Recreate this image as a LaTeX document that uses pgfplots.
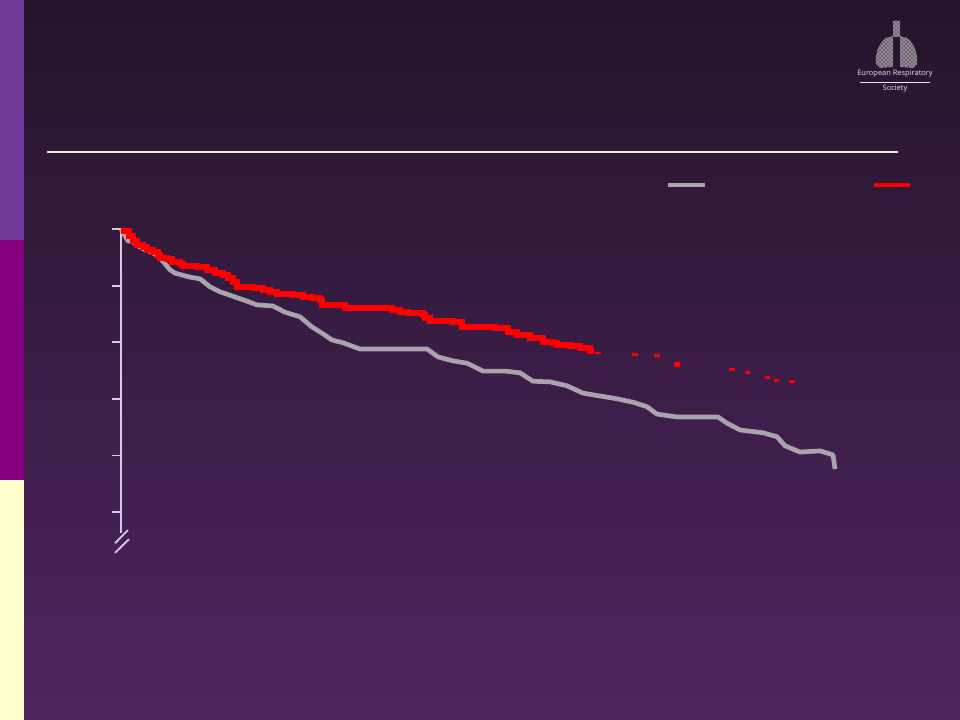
\documentclass[border=0pt]{standalone}
\usepackage{pgfplots}
\pgfplotsset{compat=1.18}
\usepackage{pgfplotstable}
\usepackage{fontspec}
\setsansfont{Open Sans}
\usetikzlibrary{patterns}
\definecolor{bgtop}{RGB}{36,20,42}
\definecolor{bgbot}{RGB}{80,37,97}
\definecolor{barA}{RGB}{112,58,154}
\definecolor{barB}{RGB}{134,0,128}
\definecolor{barC}{RGB}{255,255,204}
\definecolor{kmgray}{RGB}{168,163,172}
\definecolor{kmred}{RGB}{255,0,0}
\definecolor{axlav}{RGB}{215,200,230}
\definecolor{rulec}{RGB}{240,236,206}

\pgfplotstableread{
x y
0 1.000
0.98 0.979
1.68 0.977
2.94 0.966
4.48 0.958
5.46 0.949
6.86 0.928
7.56 0.922
9.66 0.915
11.06 0.912
12.46 0.898
13.87 0.889
15.27 0.883
17.09 0.875
19.05 0.866
21.29 0.864
22.97 0.853
25.07 0.845
26.75 0.827
28.15 0.816
29.55 0.804
31.09 0.799
33.47 0.788
42.86 0.788
44.40 0.774
46.50 0.767
48.46 0.763
50.70 0.749
53.78 0.749
55.88 0.746
57.70 0.731
60.08 0.730
62.46 0.723
64.71 0.710
67.09 0.705
69.47 0.700
71.71 0.694
73.67 0.686
75.07 0.673
77.87 0.668
83.61 0.668
84.87 0.657
86.69 0.645
89.92 0.640
91.88 0.633
93.00 0.617
95.10 0.606
97.90 0.608
99.72 0.601
100.00 0.576
}\graytab

\pgfplotstableread{
x y
0 0.996
1.12 0.988
1.68 0.979
2.24 0.972
3.08 0.968
3.64 0.963
4.48 0.959
5.18 0.954
5.46 0.949
6.44 0.947
7.14 0.942
8.26 0.938
8.68 0.935
10.64 0.933
12.04 0.928
13.17 0.922
14.29 0.919
14.99 0.913
15.69 0.906
16.25 0.898
18.49 0.896
19.89 0.892
20.87 0.889
21.85 0.885
24.09 0.883
25.49 0.880
26.75 0.878
27.87 0.875
28.15 0.866
31.37 0.860
37.96 0.857
39.08 0.853
40.20 0.852
42.30 0.848
42.58 0.843
43.28 0.837
46.50 0.836
47.76 0.827
52.38 0.825
54.20 0.818
55.46 0.813
57.28 0.807
59.10 0.800
60.50 0.799
61.06 0.795
62.89 0.793
64.29 0.790
65.69 0.784
66.25 0.784
}\redtab

\pgfplotstableread{
x y
66.81 0.781
71.99 0.779
75.07 0.777
85.57 0.751
87.68 0.747
90.48 0.737
91.74 0.733
93.98 0.730
}\redtail

\begin{document}
\begin{tikzpicture}
\begin{axis}[at={(0,0)}, anchor=south west, scale only axis,
  width=720pt, height=540pt, xmin=0, xmax=960, ymin=0, ymax=720,
  y dir=reverse, hide axis, clip=false]
  \shade[top color=bgtop, bottom color=bgbot] (24,0) rectangle (960,720);
  \fill[barA] (0,0) rectangle (24,240);
  \fill[barB] (0,240) rectangle (24,480);
  \fill[barC] (0,480) rectangle (24,720);
  \addplot[rulec, line width=1.6pt] coordinates {(47,152) (898,152)};
  \addplot[kmgray, line width=3pt] coordinates {(668,185) (705,185)};
  \addplot[kmred, line width=3pt] coordinates {(874,185) (910,185)};
  % logo
  \begin{scope}
  \fill[white!35!bgtop] (893,21) rectangle (900,37);
  \fill[white!35!bgtop]
    (893,36) -- (886,38) .. controls (878,44) and (875,54) .. (876,64) -- (880,68) -- (893,67) -- cycle;
  \fill[white!35!bgtop]
    (900,36) -- (907,38) .. controls (915,44) and (918,54) .. (917,64) -- (913,68) -- (900,67) -- cycle;
  \fill[pattern=crosshatch dots, pattern color=white] (893,21) rectangle (900,37);
  \fill[pattern=crosshatch dots, pattern color=white]
    (893,36) -- (886,38) .. controls (878,44) and (875,54) .. (876,64) -- (880,68) -- (893,67) -- cycle;
  \fill[pattern=crosshatch dots, pattern color=white]
    (900,36) -- (907,38) .. controls (915,44) and (918,54) .. (917,64) -- (913,68) -- (900,67) -- cycle;
  \end{scope}
  \node[font=\sffamily\fontsize{5.6}{6.6}\selectfont, text=white!88!violet, align=center, inner sep=0pt]
    at (895,81) {European Respiratory\\[-1.6pt]\rule{52pt}{0.4pt}\\[-0.6pt]Society};
\end{axis}

\begin{axis}[at={(90.75pt,140.25pt)}, anchor=south west, scale only axis,
  width=535.5pt, height=228pt, xmin=0, xmax=100, ymin=0.463, ymax=1.0,
  axis x line=none, axis y line*=left,
  axis line style={axlav, line width=1.4pt},
  ytick={0.5,0.6,0.7,0.8,0.9,1.0}, yticklabels={},
  major tick length=6.75pt, tick align=outside,
  tick style={axlav, line width=1.4pt}, clip=false]
  \addplot[kmgray, line width=3.5pt, line join=round] table {\graytab};
  \addplot[kmred, line width=4.2pt, const plot, line join=miter] table {\redtab};
  \addplot[only marks, kmred, mark=-, mark size=1.9pt, mark options={line width=2.2pt}] table {\redtail};
  \addplot[only marks, kmred, mark=square*, mark size=1.8pt] coordinates {(77.87,0.761)};
  % axis break marks
  \addplot[axlav, line width=1.4pt] coordinates {(-0.84,0.445) (0.98,0.468)};
  \addplot[axlav, line width=1.4pt] coordinates {(-0.84,0.428) (1.12,0.452)};
\end{axis}
\end{tikzpicture}
\end{document}
